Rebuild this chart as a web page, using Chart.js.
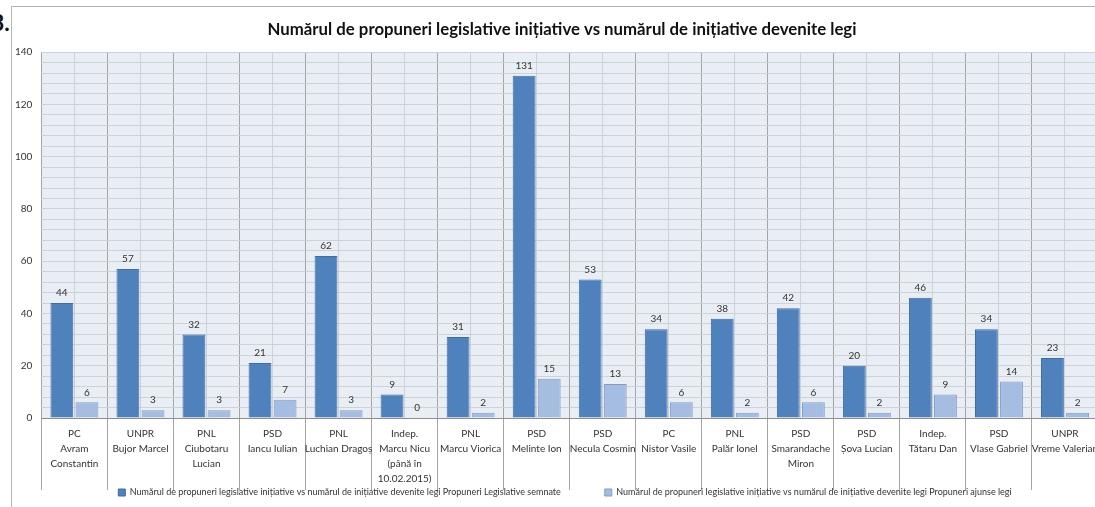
<!DOCTYPE html>
<html>
<head>
<meta charset="utf-8">
<script src="https://cdn.jsdelivr.net/npm/chart.js@4.4.1/dist/chart.umd.min.js"></script>
<style>
  html, body { margin: 0; padding: 0; background: #fff; overflow: hidden; width: 1095px; height: 507px; }
  #frame { position: absolute; left: 11px; top: 6px; width: 1110px; height: 520px; border: 1px solid #b4b4b4; }
  #num { position: absolute; left: -9px; top: 8px; font: bold 23px Lato, sans-serif; color: #111; }
  #wrap { position: absolute; left: 0; top: 0; width: 1100px; height: 507px; }
</style>
</head>
<body>
<div id="frame"></div>
<div id="num">3.</div>
<div id="wrap"><canvas id="chart" width="1100" height="507"></canvas></div>
<script>
const parties = ["PC", "UNPR", "PNL", "PSD", "PNL", "Indep.", "PNL", "PSD", "PSD", "PC", "PNL", "PSD", "PSD", "Indep.", "PSD", "UNPR"];
const members = [
  ["Avram", "Constantin"], ["Bujor Marcel"], ["Ciubotaru", "Lucian"], ["Iancu Iulian"],
  ["Luchian Dragoș"], ["Marcu Nicu", "(până în", "10.02.2015)"], ["Marcu Viorica"], ["Melinte Ion"],
  ["Necula Cosmin"], ["Nistor Vasile"], ["Palăr Ionel"], ["Smarandache", "Miron"],
  ["Șova Lucian"], ["Tătaru Dan"], ["Vlase Gabriel"], ["Vreme Valerian"]
];
const signed = [44, 57, 32, 21, 62, 9, 31, 131, 53, 34, 38, 42, 20, 46, 34, 23];
const passed = [6, 3, 3, 7, 3, 0, 2, 15, 13, 6, 2, 6, 2, 9, 14, 2];

const titleText = "Numărul de propuneri legislative inițiative vs numărul de inițiative devenite legi";
const seriesNames = [
  "Numărul de propuneri legislative inițiative vs numărul de inițiative devenite legi Propuneri Legislative semnate",
  "Numărul de propuneri legislative inițiative vs numărul de inițiative devenite legi Propuneri ajunse legi"
];

const labels = members.map((m, i) => [parties[i], ...m]);
const font = "Lato, sans-serif";

// light blue plot background
const plotBg = {
  id: "plotBg",
  beforeDraw(chart) {
    const a = chart.chartArea, ctx = chart.ctx;
    ctx.save();
    ctx.fillStyle = "#e9eef4";
    ctx.fillRect(a.left, a.top, a.right - a.left, a.bottom - a.top);
    ctx.restore();
  }
};

// nudge title and legend a bit to the right, pull the legend up
const nudge = {
  id: "nudge",
  afterLayout(chart) {
    chart.titleBlock.left += 10;
    chart.titleBlock.right += 10;
    chart.legend.top -= 39;
    chart.legend.left += 13;
    chart.legend.right += 13;
  }
};

// numbers above the bars
const valueLabels = {
  id: "valueLabels",
  afterDatasetsDraw(chart) {
    const ctx = chart.ctx;
    ctx.save();
    ctx.font = "10px " + font;
    ctx.fillStyle = "#333";
    ctx.textAlign = "center";
    ctx.textBaseline = "bottom";
    chart.data.datasets.forEach((ds, di) => {
      chart.getDatasetMeta(di).data.forEach((bar, i) => {
        ctx.fillText(ds.data[i], bar.x, bar.y - 5);
      });
    });
    ctx.restore();
  }
};

new Chart(document.getElementById("chart"), {
  type: "bar",
  data: {
    labels: labels,
    datasets: [
      { label: seriesNames[0], data: signed, backgroundColor: "#4f81bd", borderColor: "#3d6ca6", borderWidth: 1 },
      { label: seriesNames[1], data: passed, backgroundColor: "#a5bde0", borderColor: "#7d9cc9", borderWidth: 1 }
    ]
  },
  options: {
    responsive: false,
    animation: false,
    categoryPercentage: 0.76,
    barPercentage: 0.91,
    layout: { padding: { left: 6, right: 2, top: 0, bottom: 0 } },
    plugins: {
      tooltip: { enabled: false },
      title: {
        display: true,
        text: titleText,
        color: "#111",
        font: { family: font, size: 16.8, weight: "bold" },
        padding: { top: 20, bottom: 12 }
      },
      legend: {
        position: "bottom",
        maxHeight: 24,
        labels: {
          boxWidth: 7,
          boxHeight: 7,
          padding: 44,
          color: "#333",
          font: { family: font, size: 9 }
        }
      }
    },
    scales: {
      x: {
        offset: true,
        afterFit: (s) => { s.height = 65; },
        grid: { offset: true, color: "#a4a4a4", tickLength: 72 },
        border: { color: "#8e8e8e" },
        ticks: {
          padding: -64,
          autoSkip: false,
          maxRotation: 0,
          color: "#333",
          font: { family: font, size: 10, lineHeight: 1.5 }
        }
      },
      xMid: {
        position: "top",
        offset: true,
        afterFit: (s) => { s.height = 0; },
        grid: { offset: false, color: "#cdd2d8", drawTicks: false, z: -1 },
        ticks: { display: false },
        border: { display: false }
      },
      y: {
        min: 0,
        max: 140,
        ticks: { stepSize: 20, padding: 9, color: "#333", font: { family: font, size: 10 } },
        grid: { color: "#a8a8a8", drawTicks: false },
        border: { display: false }
      },
      yMinor: {
        position: "left",
        min: 0,
        max: 140,
        afterFit: (s) => { s.width = 0; },
        ticks: { display: false, stepSize: 4 },
        grid: { color: "#cdd2d8", drawTicks: false, z: -1 },
        border: { display: false }
      }
    }
  },
  plugins: [plotBg, nudge, valueLabels]
});
</script>
</body>
</html>
